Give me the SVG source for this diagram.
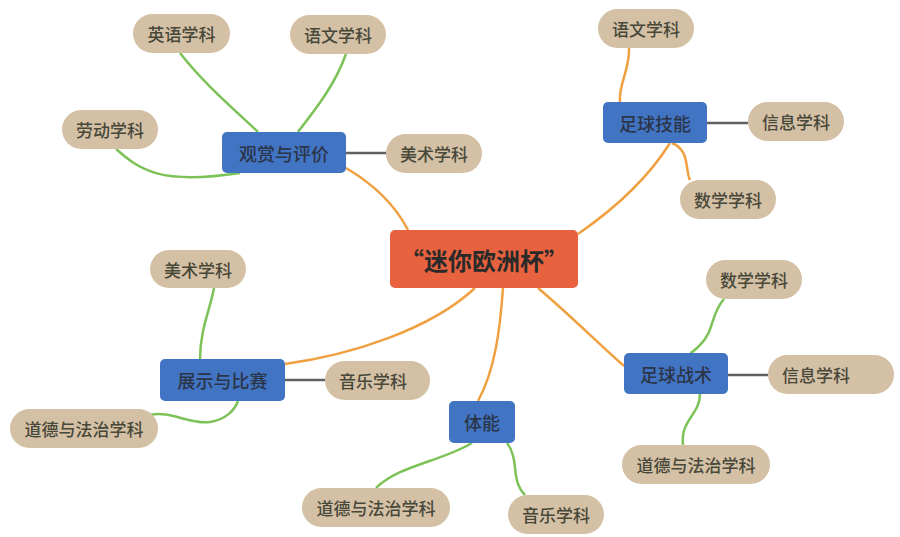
<svg xmlns="http://www.w3.org/2000/svg" width="900" height="537" viewBox="0 0 900 537">
<style>
.pill{fill:#D4C1A5}
.box{fill:#4274C4}
.ptxt{font-family:"Noto Sans CJK SC",sans-serif;font-size:17px;font-weight:500;fill:#48483A;text-anchor:middle;dominant-baseline:central}
.btxt{font-family:"Noto Sans CJK SC",sans-serif;font-size:18px;font-weight:500;fill:#2B3548;text-anchor:middle;dominant-baseline:central}
.ctxt{font-family:"Noto Sans CJK SC",sans-serif;font-size:24px;font-weight:bold;fill:#2A2A2A;text-anchor:middle;dominant-baseline:central}
.o{fill:none;stroke:#F0A040;stroke-width:2.5}
.g{fill:none;stroke:#7CC257;stroke-width:2.5}
.k{fill:none;stroke:#606060;stroke-width:2.5}
</style>
<rect width="900" height="537" fill="#FFFFFF"/>
<g id="connectors">
<path class="o" d="M346,168 C375,185 395,205 408,230"/>
<path class="o" d="M578,234 C620,205 650,175 670,143"/>
<path class="o" d="M538,288 C570,315 600,345 624,366"/>
<path class="o" d="M475,288 C430,330 350,355 285,364"/>
<path class="o" d="M503,288 C500,330 495,370 478,401"/>
<path class="o" d="M629,48 C630,70 618,85 620,102"/>
<path class="o" d="M672,143 C690,150 685,170 690,180"/>
<path class="g" d="M180,53 C205,85 235,110 258,132"/>
<path class="g" d="M346,54 C335,85 315,110 298,132"/>
<path class="g" d="M116,149 C140,170 160,185 240,173"/>
<path class="g" d="M214,288 C210,310 200,330 200,359"/>
<path class="g" d="M150,415 C170,410 190,425 210,422 C225,420 235,410 238,401"/>
<path class="g" d="M724,299 C710,315 715,330 700,345 C695,350 692,353 690,353"/>
<path class="g" d="M700,394 C700,415 680,420 683,445"/>
<path class="g" d="M376,488 C400,465 440,462 472,443"/>
<path class="g" d="M507,443 C520,460 510,480 525,495"/>
<path class="k" d="M346,153 L386,153"/>
<path class="k" d="M707,123 L748,123"/>
<path class="k" d="M728,375 L768,375"/>
<path class="k" d="M285,380 L325,380"/>
</g>
<g id="center">
<rect x="390" y="230" width="188" height="58" rx="5" fill="#E8623F"/>
<text class="ctxt" x="484" y="259">“迷你欧洲杯”</text>
</g>
<g id="guanshang">
<rect class="box" x="222" y="132" width="124" height="41" rx="5"/>
<text class="btxt" x="284" y="152.5">观赏与评价</text>
</g>
<g id="meishu1">
<rect class="pill" x="386" y="134" width="96" height="39" rx="19.5"/>
<text class="ptxt" x="434" y="153.5">美术学科</text>
</g>
<g id="yingyu">
<rect class="pill" x="133" y="14" width="97" height="39" rx="19.5"/>
<text class="ptxt" x="181.5" y="33.5">英语学科</text>
</g>
<g id="yuwen1">
<rect class="pill" x="290" y="15" width="96" height="39" rx="19.5"/>
<text class="ptxt" x="338" y="34.5">语文学科</text>
</g>
<g id="laodong">
<rect class="pill" x="62" y="110" width="96" height="39" rx="19.5"/>
<text class="ptxt" x="110" y="129.5">劳动学科</text>
</g>
<g id="jineng">
<rect class="box" x="603" y="102" width="104" height="41" rx="5"/>
<text class="btxt" x="655" y="122.5">足球技能</text>
</g>
<g id="yuwen2">
<rect class="pill" x="598" y="9" width="96" height="39" rx="19.5"/>
<text class="ptxt" x="646" y="28.5">语文学科</text>
</g>
<g id="xinxi1">
<rect class="pill" x="748" y="102" width="96" height="39" rx="19.5"/>
<text class="ptxt" x="796" y="121.5">信息学科</text>
</g>
<g id="shuxue1">
<rect class="pill" x="680" y="180" width="96" height="39" rx="19.5"/>
<text class="ptxt" x="728" y="199.5">数学学科</text>
</g>
<g id="zhanshu">
<rect class="box" x="624" y="353" width="104" height="41" rx="5"/>
<text class="btxt" x="676" y="373.5">足球战术</text>
</g>
<g id="shuxue2">
<rect class="pill" x="706" y="260" width="96" height="39" rx="19.5"/>
<text class="ptxt" x="754" y="279.5">数学学科</text>
</g>
<g id="xinxi2">
<rect class="pill" x="768" y="355" width="126" height="39" rx="19.5"/>
<text class="ptxt" x="816" y="374.5">信息学科</text>
</g>
<g id="daode1">
<rect class="pill" x="622" y="445" width="148" height="39" rx="19.5"/>
<text class="ptxt" x="696" y="464.5">道德与法治学科</text>
</g>
<g id="zhanshi">
<rect class="box" x="160" y="359" width="125" height="42" rx="5"/>
<text class="btxt" x="222.5" y="380">展示与比赛</text>
</g>
<g id="meishu2">
<rect class="pill" x="150" y="250" width="96" height="38" rx="19"/>
<text class="ptxt" x="198" y="269">美术学科</text>
</g>
<g id="yinyue1">
<rect class="pill" x="325" y="361" width="105" height="39" rx="19.5"/>
<text class="ptxt" x="373" y="380.5">音乐学科</text>
</g>
<g id="daode2">
<rect class="pill" x="10" y="409" width="148" height="39" rx="19.5"/>
<text class="ptxt" x="84" y="428.5">道德与法治学科</text>
</g>
<g id="tineng">
<rect class="box" x="449" y="401" width="66" height="42" rx="5"/>
<text class="btxt" x="482" y="422">体能</text>
</g>
<g id="daode3">
<rect class="pill" x="302" y="488" width="148" height="39" rx="19.5"/>
<text class="ptxt" x="376" y="507.5">道德与法治学科</text>
</g>
<g id="yinyue2">
<rect class="pill" x="508" y="495" width="96" height="39" rx="19.5"/>
<text class="ptxt" x="556" y="514.5">音乐学科</text>
</g>
</svg>
